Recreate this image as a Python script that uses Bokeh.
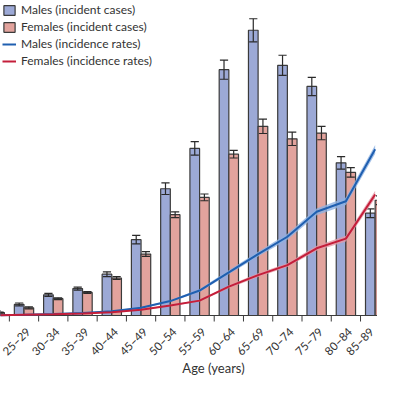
import math
from bokeh.plotting import figure
from bokeh.models import Range1d, Legend, LegendItem
from bokeh.core.properties import value
from bokeh.embed import file_html
from bokeh.resources import INLINE

# ---- data ----
age_groups = ["20–24", "25–29", "30–34", "35–39", "40–44", "45–49", "50–54",
              "55–59", "60–64", "65–69", "70–74", "75–79", "80–84", "85–89"]
# incident cases (thousands)
male_cases = [1.0, 2.3, 4.3, 5.6, 8.6, 15.8, 26.4, 34.8, 51.2, 59.4, 52.1, 47.7, 31.8, 21.3]
male_cases_err = [0.2, 0.3, 0.3, 0.3, 0.5, 0.9, 1.2, 1.4, 2.0, 2.4, 2.1, 1.9, 1.3, 0.9]
female_cases = [0.6, 1.6, 3.5, 4.8, 7.8, 12.8, 21.0, 24.6, 33.6, 39.4, 36.8, 38.0, 29.8, 24.0]
female_cases_err = [0.1, 0.2, 0.2, 0.2, 0.3, 0.5, 0.6, 0.7, 0.8, 1.5, 1.4, 1.4, 1.0, 0.9]
# incidence rates (per 100 000)
male_rates = [0.6, 1.6, 3.0, 5.0, 9.0, 16, 30, 52, 90, 128, 164, 216, 238, 346]
male_rates_lo = [0.4, 1.2, 2.4, 4.2, 8.0, 14.5, 28, 49, 86, 123, 158, 209, 230, 337]
male_rates_hi = [0.8, 2.0, 3.6, 5.8, 10.0, 17.5, 32, 55, 94, 133, 170, 223, 246, 355]
female_rates = [0.6, 1.6, 2.6, 4.0, 7.0, 12, 21, 31, 60, 84, 105, 140, 160, 252]
female_rates_lo = [0.4, 1.2, 2.0, 3.4, 6.2, 11, 19.5, 29, 57, 80, 101, 135, 154, 244]
female_rates_hi = [0.8, 2.0, 3.2, 4.6, 7.8, 13, 22.5, 33, 63, 88, 109, 145, 166, 260]

legend_labels = ["Males (incident cases)", "Females (incident cases)",
                 "Males (incidence rates)", "Females (incidence rates)"]
x_title = "Age (years)"

FONT = "Lato"
BLUE_FILL = "#9CA9D6"
RED_FILL = "#E2A39D"
OUTLINE = "#3a3a3a"
BLUE_LINE = "#1F5FB0"
RED_LINE = "#C41E3A"
AXIS = "#3a3a3a"

W = H = 377
PLOT_H = 315            # pixels from top to the baseline
CASES_MAX = 65.6
RATES_MAX = 656.0
upp = CASES_MAX / PLOT_H            # cases units per pixel
x_start, x_end = 0.197, 13.08

n = len(age_groups)
idx = list(range(n))
bw = 0.33
xm = [i - bw / 2 for i in idx]
xf = [i + bw / 2 for i in idx]

p = figure(width=W, height=H, output_backend="svg", toolbar_location=None,
           x_range=Range1d(x_start, x_end),
           y_range=Range1d(-(H - PLOT_H) * upp, CASES_MAX),
           min_border=0)
p.extra_y_ranges = {"rate": Range1d(-(H - PLOT_H) * RATES_MAX / PLOT_H, RATES_MAX)}
p.outline_line_color = None
p.grid.visible = False
p.axis.visible = False
p.background_fill_color = "white"

# baseline (axis line) and boundary ticks
p.segment(x0=[x_start], y0=[0], x1=[x_end], y1=[0], line_color=AXIS, line_width=1)
bounds = [i + 0.5 for i in range(-1, n)]
p.segment(x0=bounds, y0=[0] * len(bounds), x1=bounds, y1=[-6 * upp] * len(bounds),
          line_color=AXIS, line_width=1)

# bars
rb_m = p.vbar(x=xm, top=male_cases, width=bw, fill_color=BLUE_FILL,
              line_color=OUTLINE, line_width=1.2)
rb_f = p.vbar(x=xf, top=female_cases, width=bw, fill_color=RED_FILL,
              line_color=OUTLINE, line_width=1.2)

# error bars
cap = 0.14
for xs, ys, es in ((xm, male_cases, male_cases_err), (xf, female_cases, female_cases_err)):
    lo = [y - e for y, e in zip(ys, es)]
    hi = [y + e for y, e in zip(ys, es)]
    p.segment(x0=xs, y0=lo, x1=xs, y1=hi, line_color="#2a2a2a", line_width=1.2)
    p.segment(x0=[x - cap for x in xs], y0=hi, x1=[x + cap for x in xs], y1=hi,
              line_color="#2a2a2a", line_width=1.2)
    p.segment(x0=[x - cap for x in xs], y0=lo, x1=[x + cap for x in xs], y1=lo,
              line_color="#2a2a2a", line_width=1.2)

# rate bands + lines
p.varea(x=idx, y1=male_rates_lo, y2=male_rates_hi, fill_color="#8DB2E2",
        fill_alpha=0.8, y_range_name="rate")
p.varea(x=idx, y1=female_rates_lo, y2=female_rates_hi, fill_color="#E59AA8",
        fill_alpha=0.8, y_range_name="rate")
rl_m = p.line(x=idx, y=male_rates, line_color=BLUE_LINE, line_width=2, y_range_name="rate")
rl_f = p.line(x=idx, y=female_rates, line_color=RED_LINE, line_width=2, y_range_name="rate")

# rotated category labels (only those whose anchor lies inside the plot),
# nudged so that none is cut by the plot edge
shown = [i for i in idx if x_start < i < x_end]
px = [(i - x_start) / (x_end - x_start) * W for i in shown]
offs = [max(min(4, W - 6 - x), 27 - x) for x in px]
p.text(x=shown, y=[0] * len(shown), text=[age_groups[i] for i in shown],
       angle=math.pi / 4, x_offset=offs, y_offset=14,
       text_align="right", text_baseline="middle",
       text_font=value(FONT), text_font_size="11.5px", text_color="#333333")

# axis title
p.text(x=[x_start + (x_end - x_start) * 213 / W], y=[-52 * upp], text=[x_title],
       text_align="center", text_baseline="alphabetic",
       text_font=value(FONT), text_font_size="13px", text_color="#333333")

legend = Legend(items=[LegendItem(label=legend_labels[0], renderers=[rb_m]),
                       LegendItem(label=legend_labels[1], renderers=[rb_f]),
                       LegendItem(label=legend_labels[2], renderers=[rl_m]),
                       LegendItem(label=legend_labels[3], renderers=[rl_f])],
                location="top_left", margin=0, padding=2, spacing=2,
                glyph_width=14, glyph_height=12, label_height=12,
                label_text_font=FONT, label_text_font_size="12px",
                label_text_color="#333333",
                background_fill_alpha=0, border_line_alpha=0)
p.add_layout(legend)

open("out.html", "w").write(file_html(p, INLINE))
